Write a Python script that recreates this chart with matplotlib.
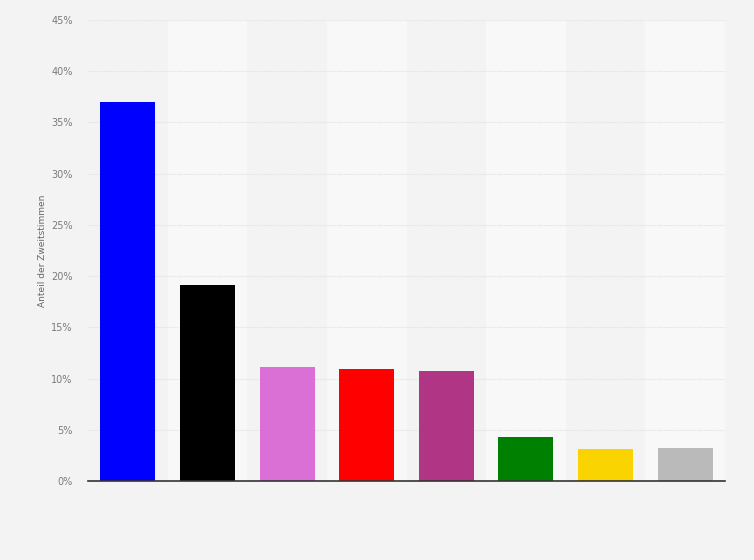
import numpy as np
import matplotlib
matplotlib.use("Agg")
import matplotlib.pyplot as plt

parteien = ["CSU", "AfD", "Linke", "SPD", "BSW", "Grüne", "FDP", "Sonstige"]
anteile = [37.0, 19.1, 11.1, 10.9, 10.7, 4.3, 3.1, 3.2]
farben = ["#0000ff", "#000000", "#da70d6", "#ff0000", "#b03585", "#008000", "#fad400", "#bababa"]
y_ticks = [0, 5, 10, 15, 20, 25, 30, 35, 40, 45]

fig = plt.figure(figsize=(7.54, 5.6), dpi=100, facecolor="#f3f3f3")
ax = fig.add_axes([88/754, 1 - 481/560, (725 - 88)/754, (481 - 20)/560])
ax.set_facecolor("#f3f3f3")

x = np.arange(len(parteien))

# abwechselnde Hintergrundstreifen
for i in x:
    if i % 2 == 1:
        ax.axvspan(i - 0.5, i + 0.5, color="#f8f8f8", zorder=0, lw=0)

ax.bar(x, anteile, width=0.69, color=farben, zorder=3, edgecolor="none")

ax.set_xlim(-0.5, len(parteien) - 0.5)
ax.set_ylim(0, 45)
ax.set_yticks(y_ticks)
ax.set_yticklabels([f"{t}%" for t in y_ticks], fontsize=7, color="#7a7a7a")
ax.set_xticks([])
ax.tick_params(axis="y", length=0, pad=11)

ax.grid(axis="y", color="#e0e0e0", linestyle=(0, (1, 1)), lw=0.8, zorder=1)
for s in ["top", "right", "left"]:
    ax.spines[s].set_visible(False)
ax.spines["bottom"].set_color("#333333")
ax.spines["bottom"].set_linewidth(1.2)
ax.spines["bottom"].set_zorder(4)

ax.set_ylabel("Anteil der Zweitstimmen", fontsize=6.5, color="#666666", labelpad=3)

fig.savefig("out.png", dpi=100, facecolor=fig.get_facecolor())
